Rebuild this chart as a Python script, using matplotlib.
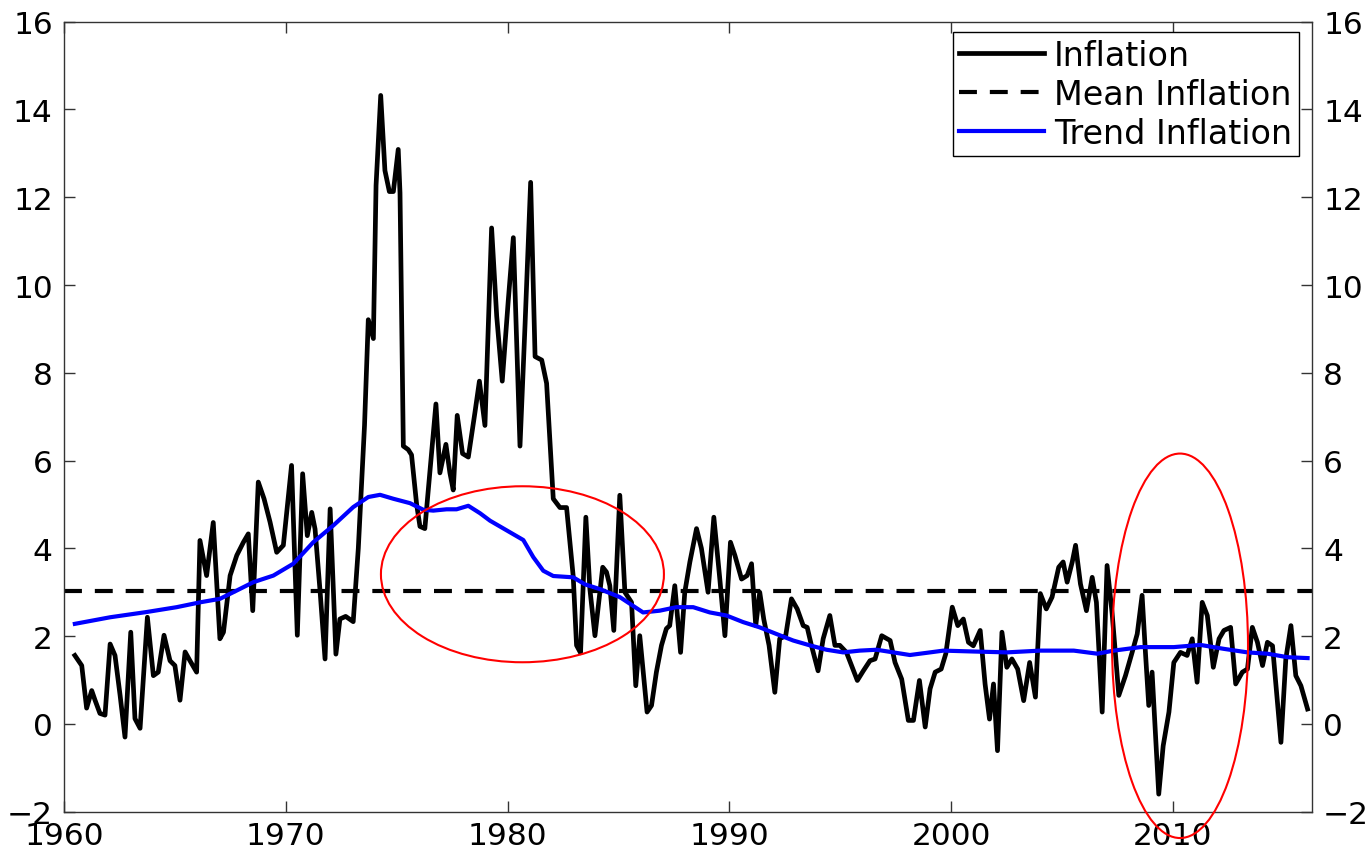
import matplotlib
matplotlib.use("Agg")
import matplotlib.pyplot as plt
from matplotlib.patches import Ellipse

plt.rcParams['font.family'] = ['DejaVu Sans']

infl_year = [1960.49, 1960.80, 1961.02, 1961.25, 1961.40, 1961.62, 1961.85, 1962.08, 1962.30, 1962.53,
             1962.75, 1963.01, 1963.20, 1963.43, 1963.76, 1964.03, 1964.25, 1964.51, 1964.78, 1965.00,
             1965.23, 1965.46, 1965.68, 1965.98, 1966.13, 1966.43, 1966.73, 1967.03, 1967.19, 1967.49,
             1967.79, 1968.09, 1968.31, 1968.51, 1968.76, 1969.02, 1969.29, 1969.59, 1969.89, 1970.26,
             1970.52, 1970.76, 1970.97, 1971.17, 1971.32, 1971.55, 1971.77, 1972.00, 1972.26, 1972.44,
             1972.70, 1973.04, 1973.27, 1973.55, 1973.72, 1973.95, 1974.07, 1974.28, 1974.47, 1974.67,
             1974.85, 1975.07, 1975.15, 1975.30, 1975.52, 1975.67, 1975.90, 1976.05, 1976.27, 1976.77,
             1976.95, 1977.22, 1977.40, 1977.55, 1977.73, 1977.97, 1978.23, 1978.53, 1978.73, 1978.98,
             1979.28, 1979.51, 1979.76, 1980.03, 1980.26, 1980.56, 1980.79, 1981.04, 1981.24, 1981.54,
             1981.76, 1982.06, 1982.36, 1982.66, 1982.96, 1983.11, 1983.29, 1983.53, 1983.71, 1983.94,
             1984.29, 1984.46, 1984.61, 1984.79, 1985.06, 1985.29, 1985.59, 1985.78, 1985.96, 1986.29,
             1986.49, 1986.71, 1986.94, 1987.16, 1987.31, 1987.54, 1987.80, 1987.99, 1988.22, 1988.52,
             1988.74, 1989.04, 1989.30, 1989.57, 1989.80, 1990.05, 1990.25, 1990.55, 1990.80, 1991.00,
             1991.19, 1991.37, 1991.55, 1991.79, 1992.05, 1992.27, 1992.54, 1992.80, 1993.06, 1993.33,
             1993.51, 1993.70, 1994.00, 1994.23, 1994.53, 1994.76, 1994.98, 1995.28, 1995.51, 1995.77,
             1996.04, 1996.34, 1996.57, 1996.87, 1997.25, 1997.47, 1997.77, 1998.07, 1998.30, 1998.57,
             1998.83, 1999.05, 1999.28, 1999.55, 1999.76, 2000.05, 2000.30, 2000.55, 2000.78, 2001.00,
             2001.31, 2001.53, 2001.73, 2001.91, 2002.09, 2002.29, 2002.51, 2002.74, 2003.00, 2003.27,
             2003.54, 2003.80, 2004.02, 2004.29, 2004.55, 2004.85, 2005.05, 2005.23, 2005.46, 2005.61,
             2005.83, 2006.10, 2006.36, 2006.55, 2006.81, 2007.03, 2007.26, 2007.56, 2007.86, 2008.16,
             2008.39, 2008.61, 2008.76, 2008.91, 2009.06, 2009.36, 2009.56, 2009.82, 2010.04, 2010.34,
             2010.64, 2010.87, 2011.09, 2011.32, 2011.55, 2011.82, 2012.08, 2012.30, 2012.60, 2012.83,
             2013.13, 2013.36, 2013.58, 2013.81, 2014.04, 2014.26, 2014.49, 2014.87, 2015.09, 2015.32,
             2015.54, 2015.77, 2016.07]
infl_value = [1.56, 1.33, 0.36, 0.76, 0.54, 0.24, 0.20, 1.82, 1.56, 0.65,
              -0.30, 2.09, 0.12, -0.10, 2.43, 1.10, 1.18, 2.02, 1.44, 1.33,
              0.54, 1.64, 1.44, 1.18, 4.18, 3.38, 4.59, 1.94, 2.09, 3.38,
              3.84, 4.14, 4.33, 2.58, 5.51, 5.13, 4.60, 3.91, 4.07, 5.89,
              2.02, 5.70, 4.29, 4.82, 4.44, 3.00, 1.48, 4.90, 1.59, 2.39,
              2.45, 2.33, 4.00, 6.80, 9.21, 8.78, 12.27, 14.32, 12.61, 12.13,
              12.13, 13.09, 12.10, 6.33, 6.25, 6.13, 5.00, 4.50, 4.45, 7.29,
              5.72, 6.37, 5.72, 5.33, 7.03, 6.16, 6.08, 7.10, 7.81, 6.80,
              11.30, 9.29, 7.81, 9.64, 11.08, 6.33, 9.12, 12.34, 8.37, 8.29,
              7.76, 5.13, 4.93, 4.93, 3.36, 1.79, 1.62, 4.71, 3.08, 2.01,
              3.57, 3.46, 3.15, 2.13, 5.21, 3.00, 2.77, 0.87, 2.01, 0.27,
              0.42, 1.18, 1.79, 2.17, 2.24, 3.15, 1.63, 3.00, 3.69, 4.45,
              4.00, 3.00, 4.71, 3.30, 2.01, 4.14, 3.84, 3.30, 3.38, 3.65,
              2.24, 3.00, 2.39, 1.79, 0.72, 1.94, 2.01, 2.85, 2.62, 2.24,
              2.20, 1.79, 1.21, 1.94, 2.47, 1.79, 1.79, 1.63, 1.33, 0.99,
              1.21, 1.44, 1.48, 2.01, 1.90, 1.40, 1.02, 0.08, 0.08, 0.99,
              -0.07, 0.80, 1.18, 1.25, 1.60, 2.66, 2.24, 2.39, 1.86, 1.78,
              2.13, 0.91, 0.11, 0.91, -0.61, 2.09, 1.29, 1.48, 1.25, 0.53,
              1.40, 0.61, 2.97, 2.62, 2.89, 3.57, 3.69, 3.23, 3.69, 4.07,
              3.19, 2.58, 3.34, 2.77, 0.27, 3.61, 2.51, 0.65, 1.10, 1.63,
              2.05, 2.93, 1.63, 0.42, 1.18, -1.60, -0.50, 0.27, 1.40, 1.63,
              1.56, 1.94, 0.95, 2.77, 2.47, 1.29, 1.94, 2.13, 2.20, 0.91,
              1.18, 1.25, 2.20, 1.86, 1.33, 1.86, 1.78, -0.42, 1.48, 2.24,
              1.10, 0.87, 0.34]

trend_year = [1960.49, 1962.08, 1963.73, 1965.08, 1966.13, 1967.03, 1967.79, 1968.54, 1969.44, 1970.34,
              1971.24, 1972.14, 1973.04, 1973.72, 1974.25, 1974.85, 1975.60, 1976.20, 1976.65, 1977.25,
              1977.70, 1978.23, 1978.76, 1979.21, 1979.96, 1980.71, 1981.16, 1981.61, 1982.06, 1982.96,
              1983.49, 1984.17, 1985.06, 1986.11, 1986.86, 1987.61, 1988.37, 1989.12, 1989.87, 1990.62,
              1991.37, 1992.12, 1992.88, 1993.63, 1994.38, 1995.13, 1995.88, 1996.64, 1997.39, 1998.14,
              1998.90, 1999.65, 2001.00, 2002.51, 2004.02, 2005.53, 2006.59, 2007.33, 2008.54, 2010.04,
              2011.24, 2012.30, 2013.36, 2014.26, 2015.17, 2016.07]
trend_value = [2.28, 2.43, 2.55, 2.66, 2.77, 2.85, 3.04, 3.23, 3.38, 3.65,
               4.14, 4.52, 4.94, 5.17, 5.22, 5.13, 5.03, 4.88, 4.86, 4.89,
               4.89, 4.97, 4.80, 4.63, 4.41, 4.19, 3.80, 3.49, 3.37, 3.34,
               3.18, 3.07, 2.89, 2.54, 2.58, 2.66, 2.66, 2.54, 2.47, 2.32,
               2.20, 2.05, 1.90, 1.79, 1.69, 1.63, 1.67, 1.69, 1.63, 1.57,
               1.62, 1.67, 1.65, 1.63, 1.67, 1.67, 1.60, 1.67, 1.75, 1.75,
               1.80, 1.71, 1.63, 1.60, 1.52, 1.50]

mean_inflation = 3.03

x_ticks = [1960, 1970, 1980, 1990, 2000, 2010]
y_ticks = [-2, 0, 2, 4, 6, 8, 10, 12, 14, 16]

# highlight ellipses: (center year, center value, width years, height value)
ellipses = [(1980.67, 3.41, 12.76, 4.01), (2010.32, 1.78, 6.13, 8.76)]

fig = plt.figure(figsize=(13.68, 8.53), dpi=100)
ax = fig.add_axes([0.04678, 0.04725, 0.91228, 0.92614])

ax.plot(infl_year, infl_value, color='black', lw=3.4, label='Inflation', solid_joinstyle='round')
ax.axhline(mean_inflation, color='black', lw=3.0, ls=(0, (4.3, 3.1)), label='Mean Inflation')
ax.plot(trend_year, trend_value, color='#0000FF', lw=3.0, label='Trend Inflation')

for cx, cy, w, h in ellipses:
    ax.add_patch(Ellipse((cx, cy), w, h, fill=False, edgecolor='red', lw=1.5, clip_on=False, zorder=5))

ax.set_xlim(1960, 2016.27)
ax.set_ylim(-2, 16)
ax.set_xticks(x_ticks)
ax.set_yticks(y_ticks)
ax.tick_params(axis='both', direction='in', length=8, width=1.0, labelsize=22.5,
               top=True, right=True, labelright=True, color='#333333')
ax.tick_params(axis='y', pad=8)
ax.tick_params(axis='x', pad=7)
for s in ax.spines.values():
    s.set_linewidth(1.0)
    s.set_color('#333333')

leg = ax.legend(loc='upper right', bbox_to_anchor=(0.9896, 0.9870), fontsize=24,
                frameon=True, fancybox=False, framealpha=1, edgecolor='black',
                handlelength=2.55, handletextpad=0.3, borderpad=0.2, labelspacing=0.18,
                borderaxespad=0)
leg.get_frame().set_linewidth(1.0)

fig.savefig('out.png', dpi=100)
